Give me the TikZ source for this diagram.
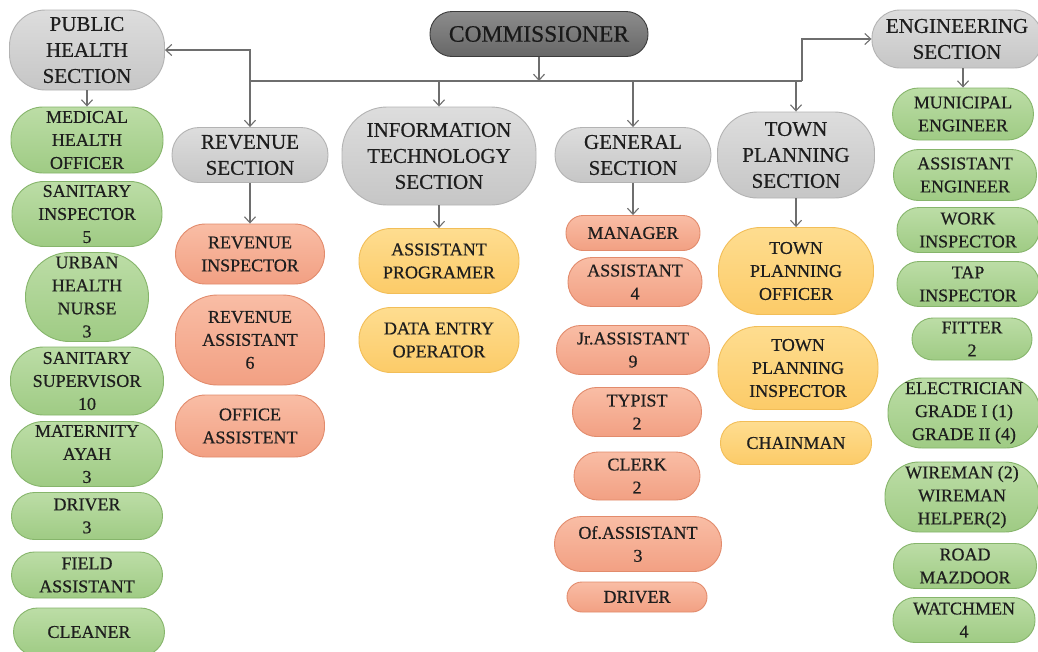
\documentclass[tikz,border=0pt]{standalone}
\usepackage{fontspec}
\setmainfont{Liberation Serif}
\newfontfamily\tms{Liberation Serif}[FakeBold=0.5]
\usetikzlibrary{arrows.meta}
\definecolor{grnT}{HTML}{BCDDA6}
\definecolor{grnB}{HTML}{9FCB84}
\definecolor{grnD}{HTML}{86B56B}
\definecolor{orT}{HTML}{F9BDA5}
\definecolor{orB}{HTML}{F2A083}
\definecolor{orD}{HTML}{E28B6C}
\definecolor{yeT}{HTML}{FEDD90}
\definecolor{yeB}{HTML}{FCCB68}
\definecolor{yeD}{HTML}{F2BE58}
\definecolor{gyT}{HTML}{DDDDDD}
\definecolor{gyB}{HTML}{C6C6C6}
\definecolor{gyD}{HTML}{B3B3B3}
\definecolor{cmT}{HTML}{8C8C8C}
\definecolor{cmB}{HTML}{676767}
\definecolor{cmD}{HTML}{3C3C3C}
\definecolor{txt}{HTML}{1E1E1E}
\definecolor{lnc}{HTML}{6E6E6E}
\newcommand\obox[8]{\node[#2, minimum width=#5pt, minimum height=#6pt, rounded corners=#7pt] (#1) at (#3,#4) {#8};}
\tikzset{
  base/.style={draw, line width=0.9pt, align=center, inner sep=0pt, text=txt},
  grn/.style={base, draw=grnD, top color=grnT, bottom color=grnB, font=\tms\fontsize{18}{23}\selectfont},
  org/.style={base, draw=orD, top color=orT, bottom color=orB, font=\tms\fontsize{18}{23}\selectfont},
  yel/.style={base, draw=yeD, top color=yeT, bottom color=yeB, font=\tms\fontsize{18}{23}\selectfont},
  sec/.style={base, draw=gyD, top color=gyT, bottom color=gyB, font=\tms\fontsize{21}{26}\selectfont},
  boss/.style={base, draw=cmD, top color=cmT, bottom color=cmB, text=black!90, font=\tms\fontsize{23.5}{26}\selectfont},
  ln/.style={draw=lnc, line width=1.1pt},
  arr/.style={ln, -{Straight Barb[length=6pt,width=11pt]}},
}
\begin{document}
\begin{tikzpicture}[x=1pt,y=-1pt]
\useasboundingbox[fill=white] (0,0) rectangle (1038,651);
% top
\obox{comm}{boss}{539}{34}{218}{45}{22}{COMMISSIONER}
\obox{ph}{sec}{87}{50}{155}{80}{36}{PUBLIC\\HEALTH\\SECTION}
\obox{eng}{sec}{957}{39}{170}{58}{28}{ENGINEERING\\SECTION}
% sections
\obox{rev}{sec}{250}{155}{156}{55}{27}{REVENUE\\SECTION}
\obox{it}{sec}{439}{156}{194}{98}{45}{INFORMATION\\TECHNOLOGY\\SECTION}
\obox{gen}{sec}{633}{155}{156}{55}{27}{GENERAL\\SECTION}
\obox{tp}{sec}{796}{155}{157}{86}{40}{TOWN\\PLANNING\\SECTION}
% public health
\obox{mho}{grn}{87}{140}{152}{66}{32}{MEDICAL\\HEALTH\\OFFICER}
\obox{si}{grn}{87}{214}{150}{65}{32}{SANITARY\\INSPECTOR\\5}
\obox{uhn}{grn}{87}{297}{123}{89}{44}{URBAN\\HEALTH\\NURSE\\3}
\obox{ss}{grn}{87}{381}{153}{68}{33}{SANITARY\\SUPERVISOR\\10}
\obox{ma}{grn}{87}{454}{151}{65}{32}{MATERNITY\\AYAH\\3}
\obox{dr}{grn}{87}{516}{151}{47}{23}{DRIVER\\3}
\obox{fa}{grn}{87}{575}{151}{46}{23}{FIELD\\ASSISTANT}
\obox{cl}{grn}{89}{632}{151}{48}{24}{CLEANER}
% revenue
\obox{ri}{org}{250}{254}{149}{60}{30}{REVENUE\\INSPECTOR}
\obox{ra}{org}{250}{340}{149}{90}{42}{REVENUE\\ASSISTANT\\6}
\obox{oa}{org}{250}{426}{149}{62}{30}{OFFICE\\ASSISTENT}
% IT
\obox{ap}{yel}{439}{261}{160}{65}{32}{ASSISTANT\\PROGRAMER}
\obox{de}{yel}{439}{340}{160}{65}{32}{DATA ENTRY\\OPERATOR}
% general
\obox{mg}{org}{633}{233}{134}{35}{17}{MANAGER}
\obox{as}{org}{635}{282}{134}{49}{24}{ASSISTANT\\4}
\obox{ja}{org}{633}{350}{153}{49}{24}{Jr.ASSISTANT\\9}
\obox{ty}{org}{637}{412}{129}{49}{24}{TYPIST\\2}
\obox{ck}{org}{637}{476}{126}{48}{24}{CLERK\\2}
\obox{of}{org}{638}{544}{167}{55}{27}{Of.ASSISTANT\\3}
\obox{gd}{org}{637}{597}{140}{30}{15}{DRIVER}
% town planning
\obox{tpo}{yel}{796}{271}{155}{87}{42}{TOWN\\PLANNING\\OFFICER}
\obox{tpi}{yel}{798}{368}{160}{83}{40}{TOWN\\PLANNING\\INSPECTOR}
\obox{ch}{yel}{796}{443}{151}{43}{21}{CHAINMAN}
% engineering
\obox{me}{grn}{963}{114}{141}{52}{26}{MUNICIPAL\\ENGINEER}
\obox{ae}{grn}{965}{175}{143}{51}{25}{ASSISTANT\\ENGINEER}
\obox{wi}{grn}{968}{230}{142}{45}{22}{WORK\\INSPECTOR}
\obox{ti}{grn}{968}{284}{142}{45}{22}{TAP\\INSPECTOR}
\obox{fi}{grn}{972}{339}{120}{42}{21}{FITTER\\2}
\obox{el}{grn}{964}{413}{152}{70}{34}{ELECTRICIAN\\GRADE I (1)\\GRADE II (4)}
\obox{wm}{grn}{962}{497}{154}{70}{34}{WIREMAN (2)\\WIREMAN\\HELPER(2)}
\obox{rm}{grn}{965}{566}{143}{45}{22}{ROAD\\MAZDOOR}
\obox{wt}{grn}{964}{620}{142}{45}{22}{WATCHMEN\\4}
% connectors
\coordinate (busL) at (250,81);
\coordinate (busR) at (802,81);
\draw[ln] (busL) -- (busR);
\draw[arr] (comm.south) -- (comm.south |- busL);
\draw[arr] (busL) |- (ph.east);
\draw[arr] (busR) |- (eng.west);
\draw[arr] (busL) -- (rev.north);
\draw[arr] (it.north |- busL) -- (it.north);
\draw[arr] (gen.north |- busL) -- (gen.north);
\draw[arr] (tp.north |- busL) -- (tp.north);
\draw[arr] (ph.south) -- (mho.north);
\draw[arr] (me.north |- eng.south) -- (me.north);
\draw[arr] (rev.south) -- (ri.north);
\draw[arr] (it.south) -- (ap.north);
\draw[arr] (gen.south) -- (mg.north);
\draw[arr] (tp.south) -- (tpo.north);
\end{tikzpicture}
\end{document}
